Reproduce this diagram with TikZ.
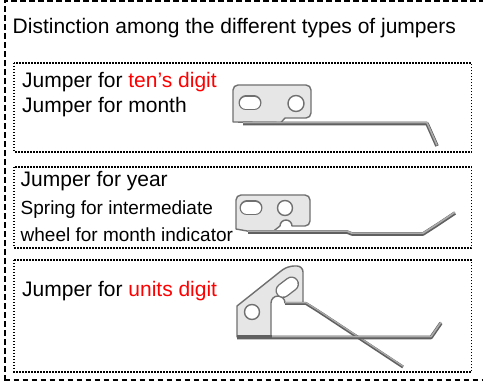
\documentclass[tikz,border=0pt]{standalone}
\usepackage{fontspec}
\setmainfont{Liberation Sans}

\definecolor{platefill}{HTML}{E6E6E6}
\definecolor{plateline}{HTML}{707070}
\definecolor{wiregray}{HTML}{ABABAB}
\definecolor{wiredark}{HTML}{606060}

\tikzset{
	txt/.style={anchor=base west, inner sep=0pt, font=\fontsize{21pt}{25pt}\selectfont},
	smalltxt/.style={txt, font=\fontsize{19pt}{23pt}\selectfont},
	kindbox/.style={draw, line width=1.8pt, dash pattern=on 1.5pt off 1.5pt},
	outerbox/.style={draw, line width=2pt, dash pattern=on 5.5pt off 3.5pt},
	plate/.style={fill=platefill, draw=plateline, line width=1.4pt, line join=round},
	hole/.style={fill=white, draw=plateline, line width=1.4pt},
	wire/.style={draw=wiredark, line width=3.6pt, line join=round},
	wirelight/.style={draw=wiregray, line width=1.6pt, line join=round, yshift=0.8pt},
}

% oblong hole between two centres
\newcommand{\slothole}[2]{
	\draw[plateline, line width=15pt, line cap=round] #1 -- #2;
	\draw[white, line width=12.2pt, line cap=round] #1 -- #2;
}

\begin{document}
\begin{tikzpicture}[x=1pt, y=-1pt]
	\def\xl{14}    % left edge of the boxes
	\def\xr{471.5} % right edge of the boxes
	
	\useasboundingbox (0,0) rectangle (483,382);
	\fill[white] (0,0) rectangle (483,382);
	\draw[outerbox] (4.5,381) -- (4.5,0.8) -- (495,0.8);
	\draw[outerbox] (4.5,380) -- (495,380);
	
	% one dotted box per kind of jumper
	\foreach \ytop/\ybot in {63/152, 167/248, 260/372} {
		\draw[kindbox] (\xl,\ytop) rectangle (\xr,\ybot);
	}
	
	\node[txt] (title) at (12.5,34) {Distinction among the different types of jumpers};
	
	\node[txt] (tens) at (22,88) {Jumper for \textcolor{red}{ten’s digit}};
	\node[txt] (month) at (22,113) {Jumper for month};
	
	\node[txt] (year) at (20.5,187) {Jumper for year};
	\node[smalltxt] (spring) at (20.5,214.5) {Spring for intermediate};
	\node[smalltxt] (wheel) at (20.5,241.5) {wheel for month indicator};
	
	\node[txt] (units) at (22,297) {Jumper for \textcolor{red}{units digit}};
	
	% jumper for ten's digit / month
	\draw[plate] (233,122) [rounded corners=5] -- (233,85) -- (311,85) -- (311,118)
		[sharp corners] -- (285,118) -- (281,122.5) -- cycle;
	\slothole{(246,103)}{(254,103)}
	\draw[hole] (296,103.5) circle (8);
	\draw[wire] (243,123.5) -- (427,123.5) -- (437,146);
	\draw[wirelight] (243,123.5) -- (427,123.5) -- (437,146);
	
	% jumper for year
	\draw[plate] (236,229) [rounded corners=5] -- (236,195) -- (310,195) -- (310,226)
		[sharp corners] -- (292,226) arc[start angle=0, end angle=-180, radius=6]
		-- (273,231.5) -- (250,231.5) -- cycle;
	\slothole{(247,208)}{(255,208)}
	\draw[hole] (285,208) circle (7.5);
	\draw[wire] (248,232) -- (347,232) -- (352,234) -- (423,234) -- (437,225) -- (455,213);
	\draw[wirelight] (248,232) -- (347,232) -- (352,234) -- (423,234) -- (437,225) -- (455,213);
	
	% jumper for units digit
	\draw[plate] (237,337) -- (237,306) -- (281,271) [rounded corners=6] -- (288,266) -- (303,266)
		[sharp corners] -- (303,303) -- (285,303) arc[start angle=0, end angle=-180, radius=7]
		-- (271,337) -- cycle;
	\slothole{(283,290.5)}{(291.5,284)}
	\draw[hole] (252,312) circle (7.5);
	\draw[wire, line width=3pt] (285,303.5) -- (306,303.5) -- (318,311) -- (403,367);
	\draw[wirelight, line width=1.2pt] (285,303.5) -- (306,303.5) -- (318,311) -- (403,367);
	\draw[wire] (237,337.5) -- (431,337.5) -- (441,323);
	\draw[wirelight] (272,337.5) -- (431,337.5) -- (441,323);
	\draw[wiredark, line width=4pt] (237,337.5) -- (272,337.5);
\end{tikzpicture}
\end{document}
